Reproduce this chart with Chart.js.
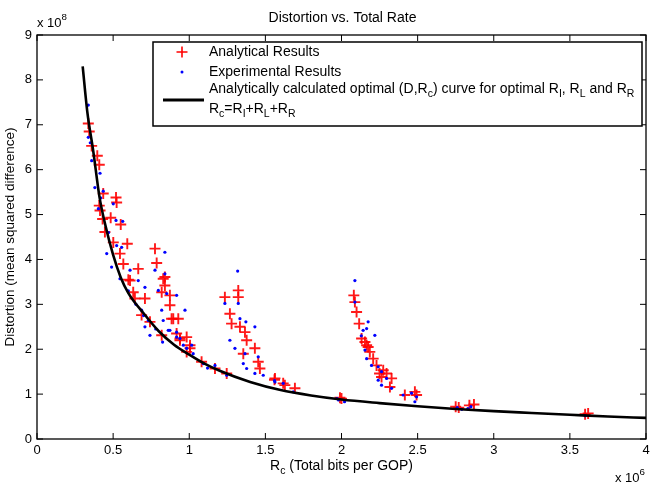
<!DOCTYPE html>
<html><head><meta charset="utf-8">
<script src="https://cdn.jsdelivr.net/npm/chart.js@4.4.0/dist/chart.umd.min.js"></script>
<style>html,body{margin:0;padding:0;background:#fff}#wrap{width:654px;height:488px}</style>
</head><body><div id="wrap"><canvas id="c" width="654" height="488"></canvas></div>
<script>
// Units: R in 10^6 bits per GOP, D in 10^8
const xTicks = [0, 0.5, 1, 1.5, 2, 2.5, 3, 3.5, 4];
const yTicks = [0, 1, 2, 3, 4, 5, 6, 7, 8, 9];

const analyticalR = [0.337,0.343,0.359,0.396,0.409,0.435,0.519,0.523,0.409,0.414,0.431,0.484,0.55,0.446,0.593,0.501,0.545,0.567,0.775,0.786,0.665,0.611,0.632,0.709,0.643,0.829,0.84,0.819,0.873,0.873,0.687,0.884,0.928,0.742,0.917,0.983,0.819,1.005,0.939,0.84,0.895,0.939,1.005,0.983,1.081,1.169,1.246,1.234,1.322,1.322,1.267,1.278,1.366,1.377,1.431,1.355,1.453,1.464,1.563,1.628,1.694,1.333,2.081,2.088,2.099,2.116,2.132,2.154,2.165,2.186,2.208,2.23,2.274,2.296,2.329,2.263,2.416,2.482,2.493,2.175,2.25,2.318,1.617,1.99,2.0,2.75,2.77,2.84,2.87,3.6,3.62,1.56,0.6];
const analyticalD = [7.03,6.85,6.53,6.31,6.11,5.47,5.38,5.27,5.2,5.09,4.9,4.93,4.78,4.61,4.35,4.38,4.13,3.9,4.24,3.92,3.79,3.53,3.27,3.13,3.13,3.57,3.42,3.27,3.2,2.98,2.76,2.68,2.68,2.61,2.35,2.27,2.31,2.09,2.2,3.61,2.68,2.24,2.02,1.94,1.72,1.57,1.46,3.16,3.31,3.16,2.79,2.57,2.38,2.2,2.02,1.9,1.72,1.57,1.35,1.2,1.13,2.5,3.2,3.05,2.83,2.57,2.24,2.16,2.09,1.94,1.79,1.64,1.53,1.46,1.35,1.38,0.98,1.05,0.98,2.05,1.46,1.16,1.24,0.92,0.9,0.72,0.7,0.75,0.77,0.55,0.57,1.32,3.55];

const experimentalR = [0.337,0.337,0.359,0.414,0.435,0.501,0.418,0.519,0.563,0.403,0.458,0.523,0.49,0.556,0.611,0.545,0.665,0.709,0.84,0.775,0.84,0.797,0.852,0.917,0.819,0.972,0.687,0.731,0.709,0.829,0.862,0.917,0.742,0.939,0.983,1.026,0.961,1.318,1.234,1.322,1.333,1.372,1.431,1.267,1.3,1.366,1.355,1.377,1.453,1.431,1.486,1.563,1.617,1.683,1.169,1.246,1.092,0.825,0.917,1.016,0.873,2.088,2.088,2.175,2.165,2.219,2.142,2.154,2.165,2.197,2.241,2.263,2.241,2.263,2.329,2.296,2.405,2.46,2.482,2.493,1.98,2.02,1.97,2.76,2.79,2.85,2.83,3.6,0.35,0.38,0.47,0.6,0.65,0.7,0.78,1.12,1.56,2.13];
const experimentalD = [7.44,6.72,6.2,5.92,5.52,5.24,5.37,4.87,4.85,5.13,4.13,4.31,3.83,4.27,3.76,3.57,3.53,3.38,4.16,3.76,3.68,3.31,3.24,3.2,2.87,2.87,2.87,2.64,2.5,2.64,2.42,2.38,2.31,2.24,2.02,1.9,2.09,3.74,3.02,3.02,2.68,2.61,2.5,2.2,2.02,1.9,1.68,1.57,1.83,1.46,1.42,1.27,1.24,1.05,1.64,1.42,1.68,2.16,2.27,2.09,2.42,3.53,3.05,2.61,2.46,2.31,2.42,1.98,1.79,1.64,1.61,1.5,1.31,1.2,1.13,1.35,0.98,1.02,0.83,0.94,0.87,0.83,0.9,0.7,0.66,0.72,0.68,0.52,6.6,5.6,4.6,3.3,3.0,2.75,2.45,1.58,1.3,2.3];

const curveR = [0.3,0.33,0.37,0.41,0.45,0.5,0.55,0.6,0.7,0.8,0.9,1.0,1.1,1.2,1.4,1.6,1.8,2.0,2.25,2.5,2.75,3.0,3.25,3.5,3.75,4.0];
const curveD = [8.3,7.3,6.4,5.4,4.75,4.1,3.6,3.25,2.8,2.4,2.1,1.88,1.68,1.52,1.27,1.09,0.97,0.88,0.8,0.73,0.67,0.62,0.58,0.54,0.5,0.47];

const toPts = (xs, ys) => xs.map((x, i) => ({x, y: ys[i]}));
const FONT = '"Liberation Sans", Arial, sans-serif';

function rich(ctx, segs, x, y, size) {
  for (const [t, m] of segs) {
    const s = m ? size * 0.75 : size;
    ctx.font = s + 'px ' + FONT;
    const dy = m === 1 ? 5 : (m === 2 ? -6 : 0);
    ctx.fillText(t, x, y + dy);
    x += ctx.measureText(t).width;
  }
  return x;
}
function richWidth(ctx, segs, size) {
  let w = 0;
  for (const [t, m] of segs) { ctx.font = (m ? size*0.75 : size) + 'px ' + FONT; w += ctx.measureText(t).width; }
  return w;
}

const deco = {
  id: 'deco',
  afterDraw(chart) {
    const ctx = chart.ctx, a = chart.chartArea, sx = chart.scales.x, sy = chart.scales.y;
    ctx.save();
    ctx.strokeStyle = '#000'; ctx.lineWidth = 1.3;
    ctx.strokeRect(a.left, a.top, a.right - a.left, a.bottom - a.top);
    ctx.lineWidth = 1;
    ctx.beginPath();
    for (const v of xTicks) {
      const px = sx.getPixelForValue(v);
      ctx.moveTo(px, a.bottom); ctx.lineTo(px, a.bottom - 6);
      ctx.moveTo(px, a.top); ctx.lineTo(px, a.top + 6);
    }
    for (const v of yTicks) {
      const py = sy.getPixelForValue(v);
      ctx.moveTo(a.left, py); ctx.lineTo(a.left + 6, py);
      ctx.moveTo(a.right, py); ctx.lineTo(a.right - 6, py);
    }
    ctx.stroke();
    ctx.fillStyle = '#000'; ctx.textBaseline = 'middle'; ctx.textAlign = 'left';
    ctx.font = '14px ' + FONT;
    ctx.textAlign = 'center';
    ctx.fillText('Distortion vs. Total Rate', (a.left + a.right) / 2 + 1, 18);
    ctx.textAlign = 'left';
    rich(ctx, [['x 10', 0], ['8', 2]], a.left, 23, 13);
    rich(ctx, [['x 10', 0], ['6', 2]], 615, 478, 13);
    const xt = [['R', 0], ['c', 1], [' (Total bits per GOP)', 0]];
    const w = richWidth(ctx, xt, 14);
    rich(ctx, xt, (a.left + a.right) / 2 - w / 2, 466, 14);
    ctx.save();
    ctx.translate(10, (a.top + a.bottom) / 2);
    ctx.rotate(-Math.PI / 2);
    ctx.font = '13.5px ' + FONT; ctx.textAlign = 'center';
    ctx.fillText('Distortion (mean squared difference)', 0, 0);
    ctx.restore();
    // legend
    const L = 153, T = 42, R = 642, B = 126;
    ctx.fillStyle = '#fff'; ctx.fillRect(L, T, R - L, B - T);
    ctx.strokeStyle = '#000'; ctx.lineWidth = 1.5; ctx.strokeRect(L, T, R - L, B - T);
    ctx.strokeStyle = '#ff0000'; ctx.lineWidth = 1.6;
    ctx.beginPath(); ctx.moveTo(176.5, 52); ctx.lineTo(187.5, 52); ctx.moveTo(182, 46.5); ctx.lineTo(182, 57.5); ctx.stroke();
    ctx.fillStyle = '#0000ff'; ctx.beginPath(); ctx.arc(182, 72, 1.5, 0, Math.PI * 2); ctx.fill();
    ctx.strokeStyle = '#000'; ctx.lineWidth = 3;
    ctx.beginPath(); ctx.moveTo(163, 100); ctx.lineTo(204, 100); ctx.stroke();
    ctx.fillStyle = '#000';
    rich(ctx, [['Analytical Results', 0]], 209, 52, 14);
    rich(ctx, [['Experimental Results', 0]], 209, 72, 14);
    rich(ctx, [['Analytically calculated optimal (D,R', 0], ['c', 1], [') curve for optimal R', 0], ['I', 1], [', R', 0], ['L', 1], [' and R', 0], ['R', 1]], 209, 89, 14);
    rich(ctx, [['R', 0], ['c', 1], ['=R', 0], ['I', 1], ['+R', 0], ['L', 1], ['+R', 0], ['R', 1]], 209, 109, 14);
    ctx.restore();
  }
};

new Chart(document.getElementById('c'), {
  type: 'scatter',
  data: {
    datasets: [
      { label: 'Analytically calculated optimal curve', type: 'line', data: toPts(curveR, curveD),
        borderColor: '#000', borderWidth: 2.6, pointRadius: 0, fill: false,
        cubicInterpolationMode: 'monotone', order: 0 },
      { label: 'Experimental Results', data: toPts(experimentalR, experimentalD),
        pointStyle: 'circle', pointRadius: 1.6, backgroundColor: '#0000ff', borderWidth: 0, order: 1 },
      { label: 'Analytical Results', data: toPts(analyticalR, analyticalD),
        pointStyle: 'cross', pointRadius: 5.5, borderColor: 'rgba(255,0,0,0.9)', borderWidth: 1.9, order: 2 }
    ]
  },
  options: {
    responsive: false, animation: false, devicePixelRatio: 1,
    layout: { padding: { top: 35, right: 8, left: 0, bottom: 0 } },
    plugins: { legend: { display: false }, tooltip: { enabled: false }, title: { display: false } },
    scales: {
      x: { type: 'linear', min: 0, max: 4,
        afterBuildTicks: s => { s.ticks = xTicks.map(v => ({value: v})); },
        afterFit: s => { s.height = 49; },
        grid: { display: true, drawOnChartArea: false, drawTicks: false },
        border: { display: false },
        ticks: { color: '#000', padding: 4, font: { size: 13, family: FONT }, maxRotation: 0,
          callback: v => String(v) } },
      y: { type: 'linear', min: 0, max: 9,
        afterBuildTicks: s => { s.ticks = yTicks.map(v => ({value: v})); },
        afterFit: s => { s.width = 37; },
        grid: { display: true, drawOnChartArea: false, drawTicks: false },
        border: { display: false },
        ticks: { color: '#000', padding: 5, font: { size: 13, family: FONT },
          callback: v => String(v) } }
    }
  },
  plugins: [deco]
});
</script></body></html>
